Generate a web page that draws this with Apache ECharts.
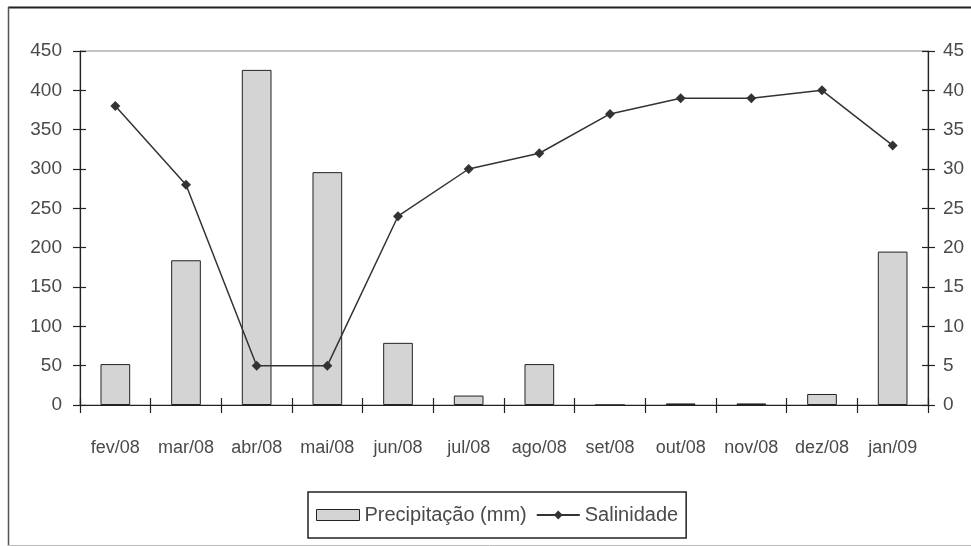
<!DOCTYPE html>
<html>
<head>
<meta charset="utf-8">
<script src="https://cdn.jsdelivr.net/npm/echarts@6/dist/echarts.min.js"></script>
<style>
  html, body { margin: 0; padding: 0; background: #fff; }
  #chart { width: 971px; height: 546px; }
</style>
</head>
<body>
<div id="chart"></div>
<script>
// Monthly rainfall and salinity, Feb 2008 – Jan 2009
const months = ['fev/08', 'mar/08', 'abr/08', 'mai/08', 'jun/08', 'jul/08',
                'ago/08', 'set/08', 'out/08', 'nov/08', 'dez/08', 'jan/09'];
const precipitacao = [52, 184, 426, 296, 79, 12, 52, 0, 2, 2, 14, 195];
const salinidade = [38, 28, 5, 5, 24, 30, 32, 37, 39, 39, 40, 33];

const FONT = "'Liberation Sans', Arial, sans-serif";
const TEXT = '#4a4a4a';
const INK = '#222';

const chart = echarts.init(document.getElementById('chart'), null, { renderer: 'canvas' });

// Excel-style ticks that cross the axis line: an outer-tick axis carries the
// labels, a twin axis with inner ticks completes the cross.
function yAxisPair(position, max, interval) {
  const base = {
    type: 'value', position: position, min: 0, max: max, interval: interval,
    splitLine: { show: false },
    axisLine: { show: true, onZero: false, lineStyle: { color: INK, width: 1.2 } }
  };
  return [
    Object.assign({}, base, {
      axisTick: { show: true, inside: false, length: 7, lineStyle: { color: INK, width: 1.2 } },
      axisLabel: {
        show: true, margin: position === 'left' ? 18 : 15,
        fontFamily: FONT, fontSize: 19, color: TEXT
      }
    }),
    Object.assign({}, base, {
      axisLine: { show: false },
      axisTick: { show: true, inside: true, length: 6, lineStyle: { color: INK, width: 1.2 } },
      axisLabel: { show: false }
    })
  ];
}

const leftAxes = yAxisPair('left', 450, 50);
const rightAxes = yAxisPair('right', 45, 5);

const option = {
  backgroundColor: '#fff',
  animation: false,
  grid: {
    left: 80, right: 43, top: 51, bottom: 141,
    show: true, borderColor: '#8a8a8a', borderWidth: 1, backgroundColor: 'transparent'
  },
  legend: {
    left: 308, top: 492,
    padding: [13, 8, 13, 8],
    borderColor: INK, borderWidth: 1.5,
    itemGap: 9, itemWidth: 43, itemHeight: 11,
    textStyle: { fontFamily: FONT, fontSize: 20, color: TEXT },
    data: [
      { name: 'Precipitação (mm)', icon: 'rect',
        itemStyle: { color: '#d4d4d4', borderColor: INK, borderWidth: 1 } },
      { name: 'Salinidade' }
    ]
  },
  xAxis: [
    {
      type: 'category', data: months, position: 'bottom', boundaryGap: true,
      axisLine: { show: true, onZero: false, lineStyle: { color: INK, width: 1.2 } },
      axisTick: { show: true, inside: false, length: 8, alignWithLabel: false,
                  lineStyle: { color: INK, width: 1.2 } },
      axisLabel: { fontFamily: FONT, fontSize: 18, color: TEXT, margin: 34, interval: 0 }
    },
    {
      type: 'category', data: months, position: 'bottom', boundaryGap: true,
      axisLine: { show: false },
      axisTick: { show: true, inside: true, length: 7, lineStyle: { color: INK, width: 1.2 } },
      axisLabel: { show: false }
    }
  ],
  yAxis: [leftAxes[0], leftAxes[1], rightAxes[0], rightAxes[1]],
  series: [
    {
      name: 'Precipitação (mm)', type: 'bar',
      xAxisIndex: 0, yAxisIndex: 0,
      data: precipitacao, barWidth: '42%',
      itemStyle: { color: '#d4d4d4', borderColor: INK, borderWidth: 1 }
    },
    {
      name: 'Salinidade', type: 'line',
      xAxisIndex: 0, yAxisIndex: 2,
      data: salinidade,
      symbol: 'diamond', symbolSize: 10, showSymbol: true,
      lineStyle: { color: '#333', width: 1.5 },
      itemStyle: { color: '#333' }
    }
  ],
  graphic: [
    // outer frame of the figure
    { type: 'line', shape: { x1: 8, y1: 7.5, x2: 971, y2: 7.5 },
      style: { stroke: '#222', lineWidth: 2 } },
    { type: 'line', shape: { x1: 8.5, y1: 7, x2: 8.5, y2: 546 },
      style: { stroke: '#555', lineWidth: 1.5 } },
    { type: 'line', shape: { x1: 8, y1: 545.5, x2: 971, y2: 545.5 },
      style: { stroke: '#bbb', lineWidth: 1 } }
  ]
};

chart.setOption(option);
</script>
</body>
</html>
